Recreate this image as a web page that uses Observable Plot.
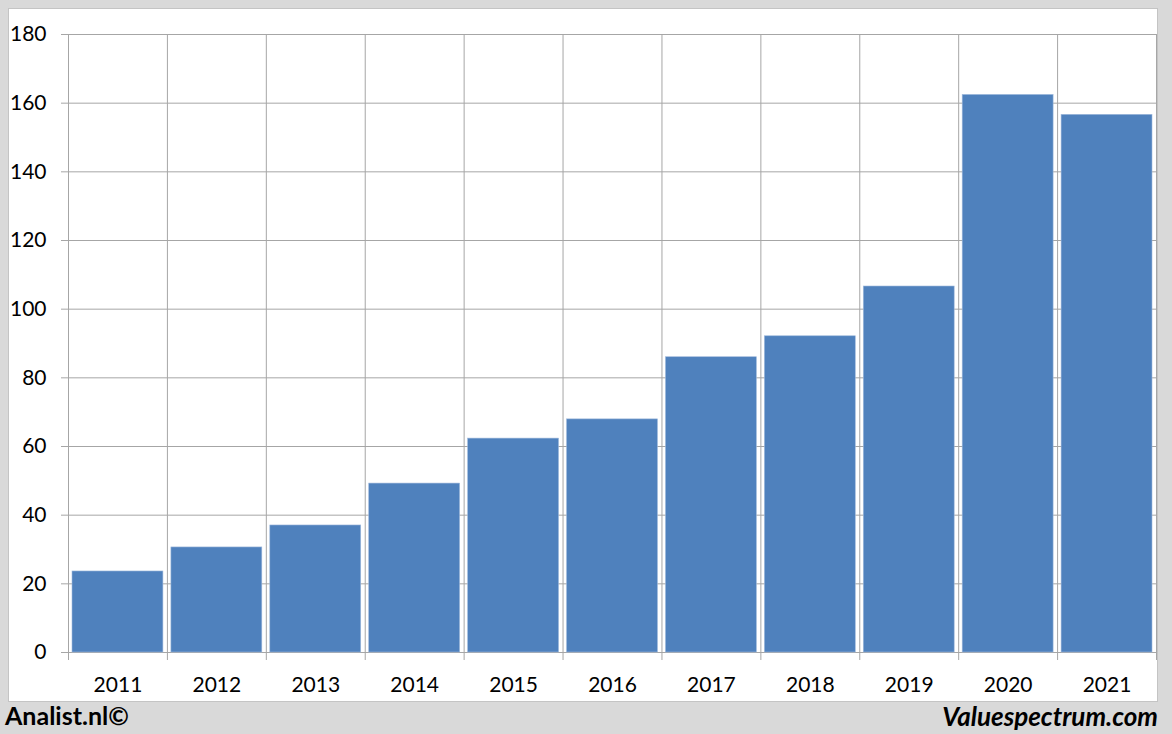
<!DOCTYPE html>
<html>
<head>
<meta charset="utf-8">
<script src="https://cdn.jsdelivr.net/npm/d3@7"></script>
<script src="https://cdn.jsdelivr.net/npm/@observablehq/plot@0.6"></script>
<style>
  html, body { margin: 0; padding: 0; }
  body { width: 1172px; height: 734px; background: #d9d9d9; position: relative; overflow: hidden; font-family: Lato, "Open Sans", sans-serif; }
  #panel { position: absolute; left: 8px; top: 8px; width: 1150px; height: 694px; background: #ffffff; border: 1px solid #c4c4c4; box-sizing: border-box; }
  #chart { position: absolute; left: 0; top: 0; }
  #left { position: absolute; left: 5px; top: 700px; font-weight: bold; font-size: 25px; color: #000; }
  #right { position: absolute; right: 14px; top: 700px; font-weight: bold; font-style: italic; font-size: 26px; color: #000; }
</style>
</head>
<body>
<div id="panel"></div>
<div id="chart"></div>
<div id="left">Analist.nl©</div>
<div id="right">Valuespectrum.com</div>
<script>
const years = ["2011","2012","2013","2014","2015","2016","2017","2018","2019","2020","2021"];
const values = [23.6, 30.6, 37.0, 49.2, 62.3, 67.9, 86.0, 92.1, 106.6, 162.4, 156.6];
const yTicks = [0, 20, 40, 60, 80, 100, 120, 140, 160, 180];

const data = years.map((y, i) => ({year: y, i, value: values[i]}));
const boundaries = d3.range(years.length + 1);
const centers = years.map((_, i) => i + 0.5);

const plot = Plot.plot({
  width: 1172,
  height: 703,
  marginLeft: 68,
  marginRight: 16,
  marginTop: 34,
  marginBottom: 51,
  style: {background: "transparent", fontFamily: "Lato, 'Open Sans', sans-serif", fontSize: "21px", color: "#000"},
  x: {type: "linear", domain: [0, years.length]},
  y: {domain: [0, 180]},
  marks: [
    Plot.ruleY(yTicks, {y: d => d, stroke: "#a6a6a6", strokeWidth: 1}),
    Plot.ruleX(boundaries, {x: d => d, stroke: "#a6a6a6", strokeWidth: 1}),
    Plot.rectY(data, {x1: "i", x2: d => d.i + 1, y1: 0, y2: "value", fill: "#4f81bd", insetLeft: 4, insetRight: 4, stroke: "#9fb9dc", strokeWidth: 0.6}),
    Plot.axisY({ticks: yTicks, tickSize: 7, tickPadding: 15, stroke: "#a6a6a6", label: null, fontSize: 21}),
    Plot.axisX({ticks: boundaries, tickSize: 8, tickFormat: () => "", stroke: "#a6a6a6", label: null}),
    Plot.axisX({ticks: centers, tickSize: 0, tickPadding: 25, tickFormat: d => years[Math.floor(d)], label: null, fontSize: 21})
  ]
});
document.getElementById("chart").appendChild(plot);
</script>
</body>
</html>
